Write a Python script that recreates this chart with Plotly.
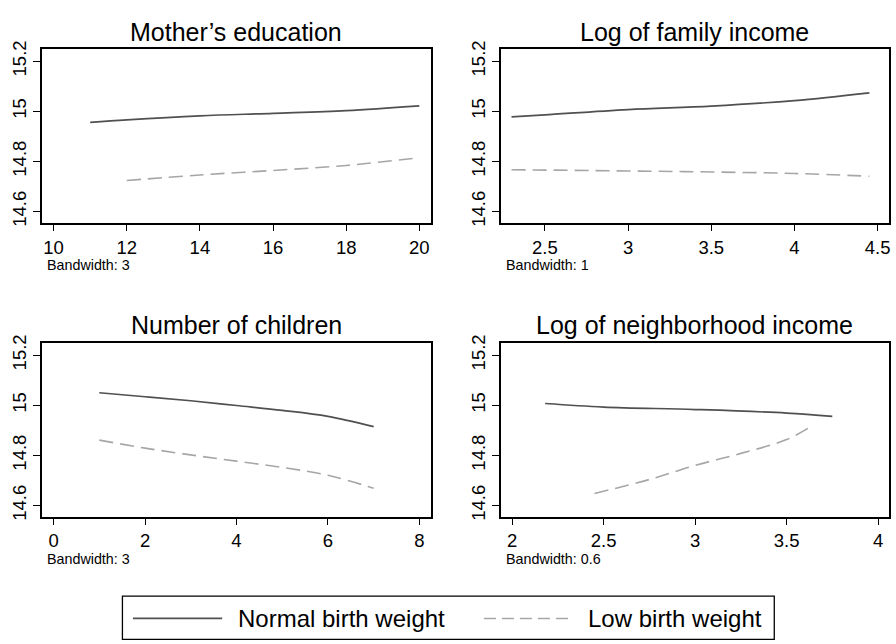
import plotly.graph_objects as go

W, H = 896, 644

# ---- data ----
titles = ["Mother\u2019s education", "Log of family income",
          "Number of children", "Log of neighborhood income"]
bandwidths = ["Bandwidth: 3", "Bandwidth: 1", "Bandwidth: 3", "Bandwidth: 0.6"]

medu_x_normal = [11, 12, 14, 16, 18, 20]
medu_y_normal = [14.956, 14.966, 14.982, 14.992, 15.003, 15.022]
medu_x_low = [12, 14, 16, 18, 20]
medu_y_low = [14.724, 14.746, 14.764, 14.784, 14.815]

finc_x_normal = [2.3, 2.5, 3.0, 3.5, 4.0, 4.45]
finc_y_normal = [14.978, 14.986, 15.007, 15.021, 15.043, 15.074]
finc_x_low = [2.3, 3.0, 3.5, 4.0, 4.45]
finc_y_low = [14.767, 14.762, 14.758, 14.752, 14.741]

kids_x_normal = [1, 2, 3, 4, 5, 6, 7]
kids_y_normal = [15.050, 15.034, 15.018, 14.999, 14.980, 14.956, 14.915]
kids_x_low = [1, 2, 3, 4, 5, 6, 7]
kids_y_low = [14.861, 14.829, 14.802, 14.777, 14.752, 14.721, 14.669]

ninc_x_normal = [2.18, 2.5, 3.0, 3.5, 3.75]
ninc_y_normal = [15.007, 14.993, 14.983, 14.969, 14.956]
ninc_x_low = [2.45, 2.75, 3.0, 3.25, 3.5, 3.64]
ninc_y_low = [14.648, 14.704, 14.760, 14.808, 14.863, 14.918]

x_ranges = [[9.68, 20.32], [2.236, 4.568], [-0.255, 8.255], [1.938, 4.06]]
x_ticks = [[10, 12, 14, 16, 18, 20], [2.5, 3, 3.5, 4, 4.5], [0, 2, 4, 6, 8], [2, 2.5, 3, 3.5, 4]]
y_range = [14.556, 15.248]
y_ticks = [14.6, 14.8, 15, 15.2]
y_ticktext = ["14.6", "14.8", "15", "15.2"]

series_names = ["Normal birth weight", "Low birth weight"]
NORMAL_COLOR = "#505050"
LOW_COLOR = "#a6a6a6"
DASH = "14px,7px"
FONT = "Liberation Sans, Arial, sans-serif"

panels = [
    (medu_x_normal, medu_y_normal, medu_x_low, medu_y_low),
    (finc_x_normal, finc_y_normal, finc_x_low, finc_y_low),
    (kids_x_normal, kids_y_normal, kids_x_low, kids_y_low),
    (ninc_x_normal, ninc_y_normal, ninc_x_low, ninc_y_low),
]

# pixel boxes of the plot areas
boxes = [(42, 432, 41, 218), (502, 891, 41, 218), (42, 432, 341, 518), (502, 891, 341, 518)]

fig = go.Figure()
layout = dict(
    width=W, height=H, margin=dict(l=0, r=0, t=0, b=0),
    paper_bgcolor="white", plot_bgcolor="white",
    font=dict(family=FONT, color="black"),
    showlegend=False,
)
annotations = []
shapes = []

for i, (xn, yn, xl, yl) in enumerate(panels):
    n = i + 1
    xa = "x" if n == 1 else f"x{n}"
    ya = "y" if n == 1 else f"y{n}"
    fig.add_trace(go.Scatter(x=xn, y=yn, mode="lines", name=series_names[0],
                             line=dict(color=NORMAL_COLOR, width=1.7, shape="spline"),
                             xaxis=xa, yaxis=ya, showlegend=False))
    fig.add_trace(go.Scatter(x=xl, y=yl, mode="lines", name=series_names[1],
                             line=dict(color=LOW_COLOR, width=1.6, dash=DASH, shape="spline"),
                             xaxis=xa, yaxis=ya, showlegend=False))
    x0, x1, y0, y1 = boxes[i]
    axis_common = dict(showline=True, mirror=True, linecolor="black", linewidth=1.5,
                       ticks="outside", ticklen=7, tickwidth=1.3, tickcolor="black",
                       showgrid=False, zeroline=False,
                       tickfont=dict(family=FONT, size=18.5, color="black"))
    layout["xaxis" if n == 1 else f"xaxis{n}"] = dict(
        domain=[x0 / W, x1 / W], range=x_ranges[i], tickvals=x_ticks[i],
        anchor=ya, **axis_common)
    layout["yaxis" if n == 1 else f"yaxis{n}"] = dict(
        domain=[1 - y1 / H, 1 - y0 / H], range=y_range, tickvals=y_ticks,
        ticktext=y_ticktext, tickangle=-90, anchor=xa, **axis_common)
    annotations.append(dict(text=titles[i], xref="paper", yref="paper",
                            x=(x0 + x1) / 2 / W, y=1 - (y0 - 18) / H,
                            xanchor="center", yanchor="middle", showarrow=False,
                            font=dict(family=FONT, size=25, color="black")))
    annotations.append(dict(text=bandwidths[i], xref="paper", yref="paper",
                            x=(x0 + 3.5) / W, y=1 - (y1 + 43.7) / H,
                            xanchor="left", yanchor="middle", showarrow=False,
                            font=dict(family=FONT, size=14.3, color="black")))

# ---- legend (drawn as a framed key below the panels) ----
lx0, lx1, ly0, ly1 = 122.7, 776, 599.3, 643.3
shapes.append(dict(type="rect", xref="paper", yref="paper",
                   x0=lx0 / W, x1=lx1 / W, y0=1 - ly1 / H, y1=1 - ly0 / H,
                   line=dict(color="black", width=1.3), fillcolor="white"))
ky = 622
shapes.append(dict(type="line", xref="paper", yref="paper",
                   x0=133.3 / W, x1=222.7 / W, y0=1 - ky / H, y1=1 - ky / H,
                   line=dict(color=NORMAL_COLOR, width=1.7)))
shapes.append(dict(type="line", xref="paper", yref="paper",
                   x0=485 / W, x1=574 / W, y0=1 - ky / H, y1=1 - ky / H,
                   line=dict(color=LOW_COLOR, width=1.6, dash="12px,6px")))
annotations.append(dict(text=series_names[0], xref="paper", yref="paper",
                        x=236.5 / W, y=1 - ky / H, xanchor="left", yanchor="middle",
                        showarrow=False, font=dict(family=FONT, size=24, color="black")))
annotations.append(dict(text=series_names[1], xref="paper", yref="paper",
                        x=587.5 / W, y=1 - ky / H, xanchor="left", yanchor="middle",
                        showarrow=False, font=dict(family=FONT, size=24, color="black")))

layout["annotations"] = annotations
layout["shapes"] = shapes
fig.update_layout(**layout)
fig.write_html("out.html", config={"displayModeBar": False},
               post_script="document.body.style.margin='0';document.body.style.overflow='hidden';")
